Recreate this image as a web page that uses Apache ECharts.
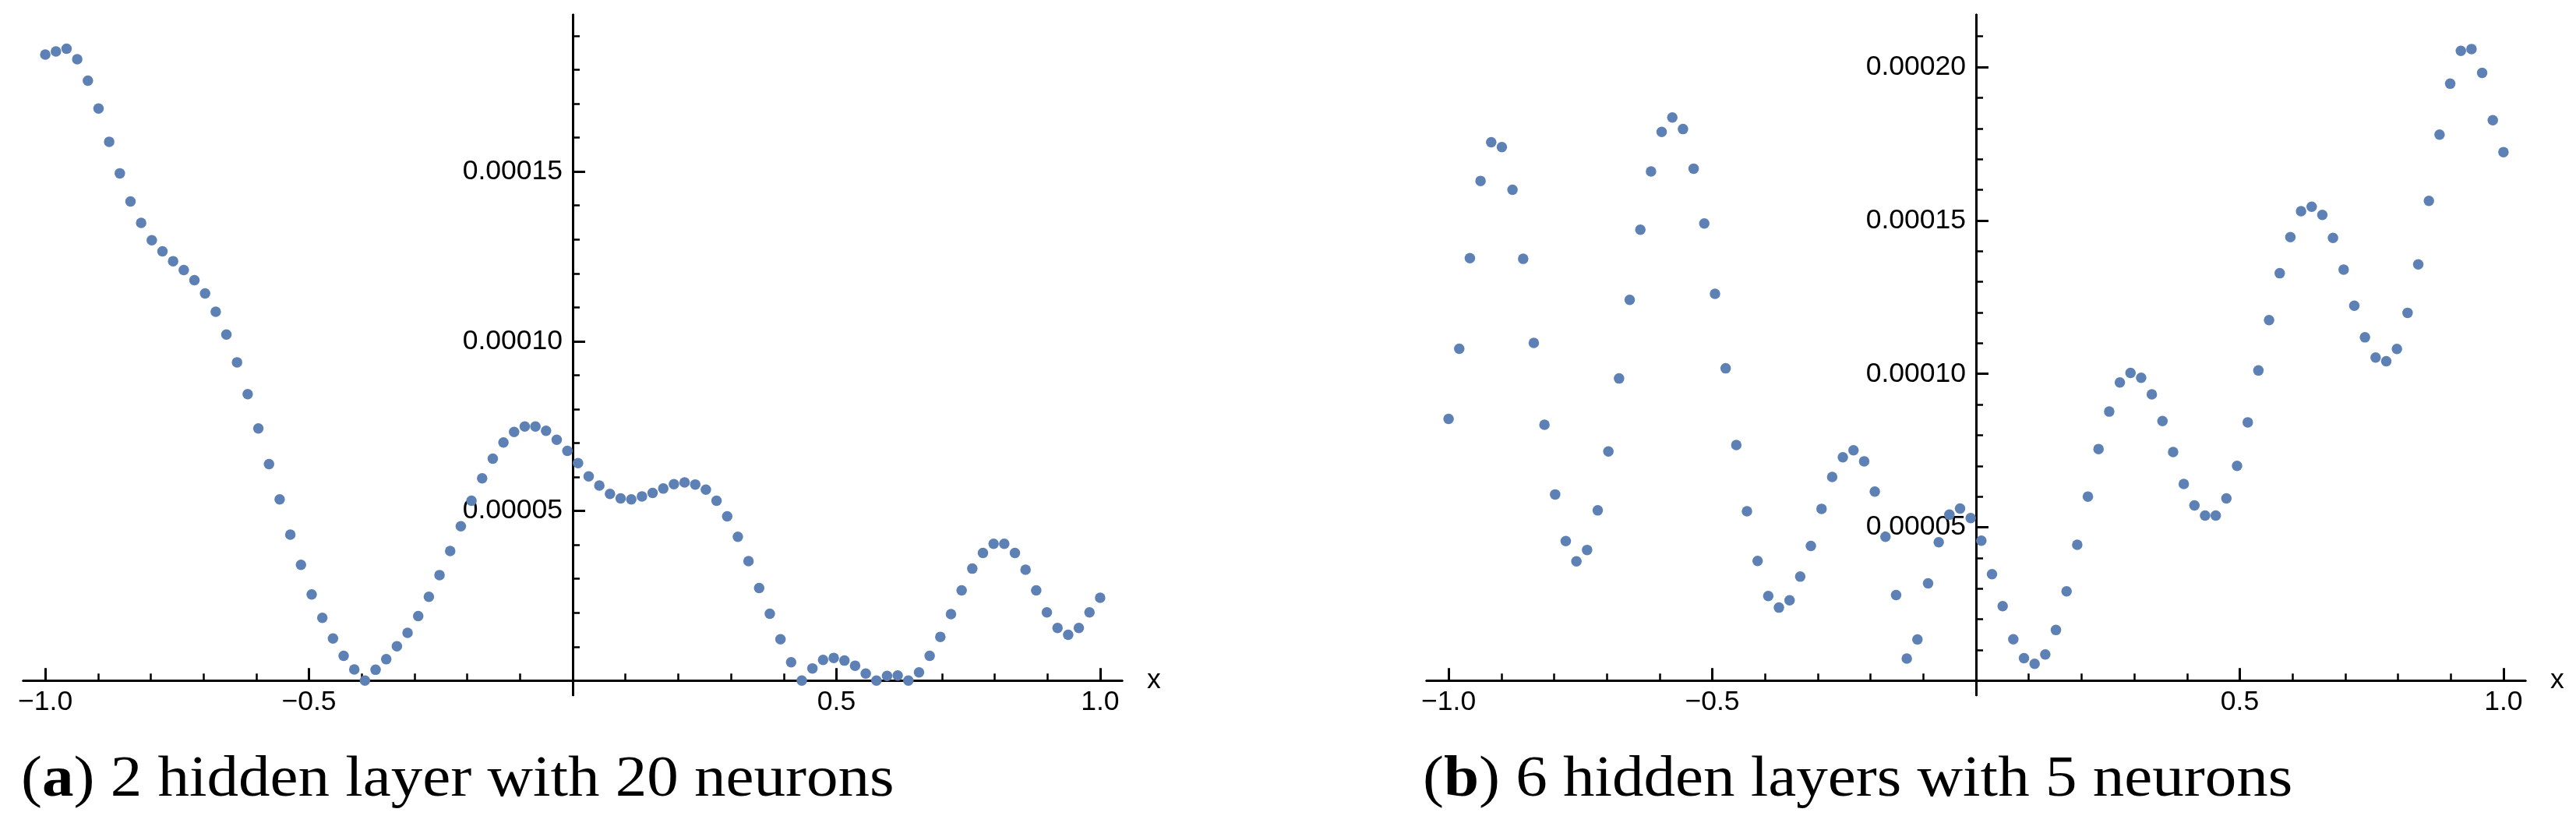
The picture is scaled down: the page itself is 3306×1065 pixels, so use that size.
<!DOCTYPE html>
<html>
<head>
<meta charset="utf-8">
<title>Approximation error</title>
<script src="https://cdn.jsdelivr.net/npm/echarts@6/dist/echarts.min.js"></script>
<style>
  html, body { margin: 0; padding: 0; background: #fff; }
  #main { width: 3306px; height: 1065px; }
</style>
</head>
<body>
<div id="main"></div>
<script>
// sample points on [-1, 1] (100 points, shared by both panels)
const xs = [
  -1.0000, -0.9798, -0.9596, -0.9394, -0.9192, -0.8990, -0.8788, -0.8586, -0.8384, -0.8182,
  -0.7980, -0.7778, -0.7576, -0.7374, -0.7172, -0.6970, -0.6768, -0.6566, -0.6364, -0.6162,
  -0.5960, -0.5758, -0.5556, -0.5354, -0.5152, -0.4949, -0.4747, -0.4545, -0.4343, -0.4141,
  -0.3939, -0.3737, -0.3535, -0.3333, -0.3131, -0.2929, -0.2727, -0.2525, -0.2323, -0.2121,
  -0.1919, -0.1717, -0.1515, -0.1313, -0.1111, -0.0909, -0.0707, -0.0505, -0.0303, -0.0101,
  0.0101, 0.0303, 0.0505, 0.0707, 0.0909, 0.1111, 0.1313, 0.1515, 0.1717, 0.1919,
  0.2121, 0.2323, 0.2525, 0.2727, 0.2929, 0.3131, 0.3333, 0.3535, 0.3737, 0.3939,
  0.4141, 0.4343, 0.4545, 0.4747, 0.4949, 0.5152, 0.5354, 0.5556, 0.5758, 0.5960,
  0.6162, 0.6364, 0.6566, 0.6768, 0.6970, 0.7172, 0.7374, 0.7576, 0.7778, 0.7980,
  0.8182, 0.8384, 0.8586, 0.8788, 0.8990, 0.9192, 0.9394, 0.9596, 0.9798, 1.0000
]

// (a) 2 hidden layer with 20 neurons — error in units of 1e-5
const errA = [
  18.45, 18.54, 18.62, 18.31, 17.68, 16.86, 15.88, 14.95, 14.12, 13.49,
  12.98, 12.65, 12.36, 12.10, 11.80, 11.41, 10.87, 10.20, 9.38, 8.44,
  7.43, 6.38, 5.34, 4.30, 3.41, 2.54, 1.85, 1.24, 0.73, 0.33,
  0.00, 0.32, 0.63, 1.01, 1.41, 1.90, 2.47, 3.11, 3.82, 4.55,
  5.30, 5.96, 6.54, 7.02, 7.33, 7.49, 7.49, 7.36, 7.10, 6.77,
  6.41, 6.02, 5.75, 5.50, 5.37, 5.34, 5.43, 5.53, 5.66, 5.79,
  5.84, 5.78, 5.63, 5.30, 4.84, 4.24, 3.52, 2.73, 1.97, 1.22,
  0.54, 0.00, 0.36, 0.61, 0.67, 0.59, 0.44, 0.21, 0.00, 0.14,
  0.15, 0.00, 0.24, 0.73, 1.29, 1.96, 2.66, 3.30, 3.76, 4.03,
  4.03, 3.76, 3.27, 2.66, 2.01, 1.55, 1.35, 1.55, 2.01, 2.44
]

// (b) 6 hidden layers with 5 neurons — error in units of 1e-5
const errB = [
  8.53, 10.82, 13.77, 16.29, 17.55, 17.39, 16.00, 13.75, 11.01, 8.34,
  6.07, 4.55, 3.89, 4.26, 5.55, 7.47, 9.85, 12.41, 14.70, 16.60,
  17.89, 18.36, 17.98, 16.69, 14.90, 12.61, 10.18, 7.68, 5.52, 3.90,
  2.76, 2.38, 2.62, 3.39, 4.39, 5.60, 6.64, 7.28, 7.51, 7.15,
  6.16, 4.69, 2.79, 0.72, 1.34, 3.17, 4.51, 5.41, 5.61, 5.30,
  4.56, 3.47, 2.43, 1.35, 0.73, 0.55, 0.85, 1.65, 2.91, 4.43,
  6.00, 7.55, 8.77, 9.72, 10.03, 9.87, 9.33, 8.46, 7.45, 6.41,
  5.71, 5.38, 5.38, 5.94, 7.00, 8.42, 10.11, 11.75, 13.28, 14.46,
  15.30, 15.45, 15.18, 14.43, 13.40, 12.22, 11.19, 10.53, 10.41, 10.81,
  11.99, 13.57, 15.64, 17.80, 19.46, 20.53, 20.59, 19.81, 18.27, 17.23
]

// axis ticks / labels
const xMajorTicks = [-1, -0.5, 0.5, 1]
const xMajorLabels = ['\u22121.0', '\u22120.5', '0.5', '1.0']
const xMinorTicks = [-0.9, -0.8, -0.7, -0.6, -0.4, -0.3, -0.2, -0.1, 0.1, 0.2, 0.3, 0.4, 0.6, 0.7, 0.8, 0.9]
const yMajorTicksA = [5, 10, 15]
const yMajorTicksB = [5, 10, 15, 20]
const yMajorLabels = ['0.00005', '0.00010', '0.00015', '0.00020']
const yMinorTicksA = [1, 2, 3, 4, 6, 7, 8, 9, 11, 12, 13, 14, 16, 17, 18, 19]
const yMinorTicksB = [1, 2, 3, 4, 6, 7, 8, 9, 11, 12, 13, 14, 16, 17, 18, 19, 21]
const captionTags = ['a', 'b']
const captions = ['2 hidden layer with 20 neurons', '6 hidden layers with 5 neurons']

const DOT = '#5E81B5'
const INK = '#000'
const SANS = 'Liberation Sans'
const SERIF = 'Liberation Serif'

// plot box: both panels share the same size, axes cross at the origin
const GRID_W = 1410
const GRID_H = 872.7
const X_MIN = -1.0415
const X_MAX = 1.0415
const X_AXIS_SHIFT = -18.4   // x axis drawn at y = 0, above the bottom of the box
const Y_AXIS_SHIFT = -705    // y axis drawn at x = 0, in the middle of the box

function lookup(ticks, labels, v) {
  const i = ticks.findIndex(t => Math.abs(t - v) < 1e-9)
  return i < 0 ? '' : labels[i]
}

function xAxes(gridIndex) {
  const base = {
    type: 'value',
    gridIndex,
    min: X_MIN,
    max: X_MAX,
    position: 'bottom',
    offset: X_AXIS_SHIFT,
    splitLine: { show: false },
    axisLine: { onZero: false, lineStyle: { color: INK, width: 3 } },
  }
  return [
    {
      ...base,
      name: 'x',
      nameLocation: 'end',
      nameGap: 32,
      nameTextStyle: { fontFamily: SANS, fontSize: 35.5, color: INK, align: 'left', verticalAlign: 'middle' },
      axisTick: { inside: true, length: 16, customValues: xMajorTicks, lineStyle: { color: INK, width: 3 } },
      axisLabel: {
        customValues: xMajorTicks,
        formatter: v => lookup(xMajorTicks, xMajorLabels, v),
        margin: 10,
        fontFamily: SANS,
        fontSize: 35.5,
        color: INK,
      },
    },
    {
      ...base,
      axisTick: { inside: true, length: 9, customValues: xMinorTicks, lineStyle: { color: INK, width: 2.5 } },
      axisLabel: { show: false },
    },
  ]
}

function yAxes(gridIndex, min, max, majors, minors) {
  const base = {
    type: 'value',
    gridIndex,
    min,
    max,
    position: 'left',
    offset: Y_AXIS_SHIFT,
    splitLine: { show: false },
    axisLine: { onZero: false, lineStyle: { color: INK, width: 3 } },
  }
  return [
    {
      ...base,
      axisTick: { inside: true, length: 16, customValues: majors, lineStyle: { color: INK, width: 3 } },
      axisLabel: {
        customValues: majors,
        formatter: v => lookup(yMajorTicksB, yMajorLabels, v),
        margin: 13,
        fontFamily: SANS,
        fontSize: 35.5,
        color: INK,
      },
    },
    {
      ...base,
      axisTick: { inside: true, length: 9, customValues: minors, lineStyle: { color: INK, width: 2.5 } },
      axisLabel: { show: false },
    },
  ]
}

function dots(values, axisIndex) {
  return {
    type: 'scatter',
    xAxisIndex: axisIndex,
    yAxisIndex: axisIndex,
    symbol: 'circle',
    symbolSize: 13.5,
    itemStyle: { color: DOT, opacity: 1 },
    data: xs.map((x, i) => [x, values[i]]),
    z: 5,
  }
}

const chart = echarts.init(document.getElementById('main'), null, { renderer: 'canvas' })

const option = {
  animation: false,
  backgroundColor: '#fff',
  grid: [
    { left: 30, top: 19, width: GRID_W, height: GRID_H, outerBoundsMode: 'none' },
    { left: 1831, top: 19, width: GRID_W, height: GRID_H, outerBoundsMode: 'none' },
  ],
  xAxis: [...xAxes(0), ...xAxes(1)],
  yAxis: [
    ...yAxes(0, -0.4226, 19.621, yMajorTicksA, yMinorTicksA),
    ...yAxes(1, -0.4675, 21.705, yMajorTicksB, yMinorTicksB),
  ],
  series: [dots(errA, 0), dots(errB, 2)],
  graphic: captions.map((c, k) => ({
    type: 'text',
    x: k === 0 ? 27 : 1826,
    y: 1002,
    scaleX: 1.11,
    silent: true,
    style: {
      text: '({b|' + captionTags[k] + '}) ' + c,
      fontFamily: SERIF,
      fontSize: 73,
      fill: INK,
      align: 'left',
      verticalAlign: 'middle',
      rich: {
        b: { fontFamily: SERIF, fontSize: 73, fontWeight: 'bold', fill: INK },
      },
    },
  })),
}

chart.setOption(option)
</script>
</body>
</html>
